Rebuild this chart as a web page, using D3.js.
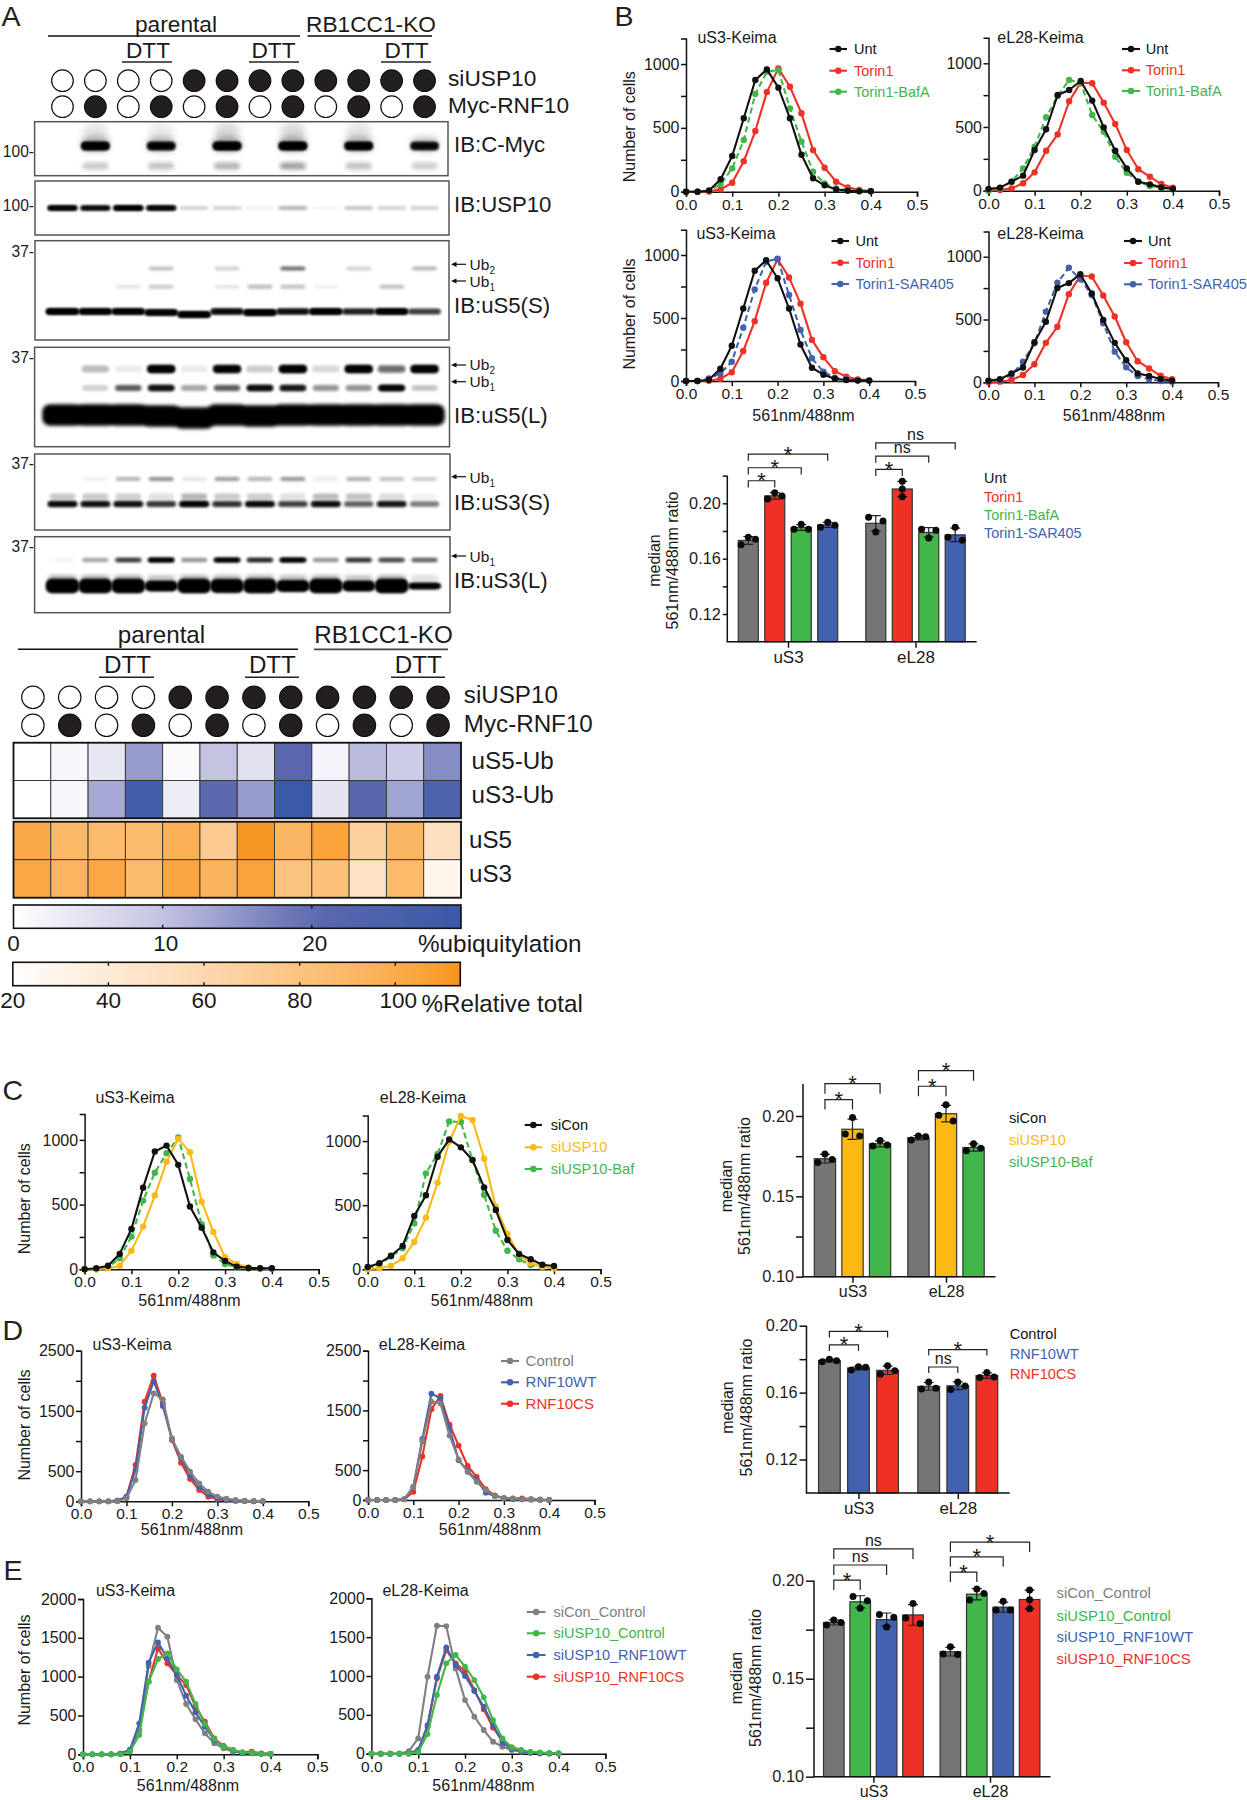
<!DOCTYPE html>
<html><head><meta charset="utf-8">
<script src="https://cdn.jsdelivr.net/npm/d3@7"></script>
<style>
html,body{margin:0;padding:0;background:#fff}
svg{display:block}
text{font-family:"Liberation Sans",Arial,sans-serif;fill:#1a1a1a}
</style></head><body>
<svg id="fig" width="1247" height="1800" viewBox="0 0 1247 1800"></svg>
<script>
/* ---------- panel A states and densitometry ---------- */
const siUSP10State = [0,0,0,0,1,1,1,1,1,1,1,1];
const mycState     = [0,1,0,1,0,1,0,1,0,1,0,1];
const heatUS5Ub = [0,1.5,4,14.5,1,10,5,21,2,11,8.5,16];
const heatUS3Ub = [0,1.5,13,27,3,20.5,14.5,30,4.5,22,13.5,24];
const heatUS5   = [102,90,88,88,98,73,112,92,106,68,92,52];
const heatUS3   = [103,93,103,87,104,94,106,80,83,49,89,28];
const ubBarTicks = [10,20];
const ubBarLabels = [0,10,20];
const totalBarTicks = [40,60,80,100];
const totalBarLabels = [20,40,60,80,100];

/* blot band intensities, one value per lane */
const blotMycMain  = [0,.95,0,.8,0,1,0,1,0,.9,0,.7];
const blotMycLow   = [0,.22,0,.25,0,.3,0,.38,0,.25,0,.2];
const blotMycSmear = [0,.1,0,.08,0,.14,0,.14,0,.1,0,0];
const blotUSP10    = [.9,.75,1,.85,.06,.06,.02,.1,.01,.08,.06,.06];
const blotS5SMain  = [.98,.92,.92,.9,.98,.72,1,.68,.95,.55,.92,.4];
const blotS5SUb2   = [0,0,0,.28,0,.2,0,.65,0,.2,0,.32];
const blotS5SUb1   = [0,0,.1,.22,0,.1,.28,.25,.06,0,.25,0];
const blotS5LMain  = [1,1,1,1,1,1,1,1,1,1,1,1];
const blotS5LUb2   = [0,.14,.04,1,.04,.95,.1,1,.08,1,.35,1];
const blotS5LUb1   = [0,.1,.42,.8,.2,.42,.85,.75,.25,.25,.95,.13];
const blotS3SMain  = [.88,.82,.82,.6,.98,.62,.88,.55,.85,.42,.78,.32];
const blotS3SUpper = [.22,.22,.2,.12,.3,.22,.2,.12,.28,.25,.14,.05];
const blotS3SUb1   = [0,.06,.3,.45,.1,.4,.3,.42,.08,.32,.25,.2];
const blotS3LMain  = [1,1,1,.72,1,.95,1,.8,1,.72,1,.42];
const blotS3LUb1   = [.02,.2,.55,1,.25,1,.65,1,.25,.6,.5,.4];

/* ---------- flow histograms: ratio bins ---------- */
const binsFine  = [0,.025,.05,.075,.1,.125,.15,.175,.2,.225,.25,.275,.3,.325,.35,.375,.4];
const binsSmall = [0,.02,.04,.06,.08,.1,.12,.14,.16,.18,.2,.22,.24,.26,.28,.3,.32,.34,.36,.38,.4];

/* panel B */
const bS3Unt  = [0,0,10,97,280,575,875,958,815,575,290,105,50,18,8,3,3];
const bS3Tor  = [0,0,2,18,70,238,475,780,966,822,614,326,188,78,34,13,5];
const bS3Baf  = [0,0,5,60,183,405,765,940,953,653,392,157,65,26,13,5,3];
const bS3Sar  = [0,0,20,60,153,423,727,947,970,682,405,180,74,26,13,5,3];
const bL28Unt = [13,24,71,118,319,482,751,790,861,707,497,314,175,71,50,26,13];
const bL28Tor = [0,5,18,58,144,314,442,702,848,843,691,524,319,168,110,52,24];
const bL28Baf = [5,18,71,175,346,576,743,869,843,594,463,267,141,71,37,24,10];
const bL28Sar = [10,19,58,164,310,562,793,912,820,695,470,244,119,50,24,10,5];

/* panel C */
const cS3Con  = [0,8,28,119,312,631,910,956,807,485,322,131,64,21,10,8,8];
const cS3Usp  = [0,0,8,28,144,330,570,832,1008,905,523,289,93,41,15,8,8];
const cS3Baf  = [0,0,15,85,253,531,747,897,1018,698,348,106,41,15,8,5,3];
const cL28Con = [18,47,106,182,416,577,878,1013,951,852,639,462,229,119,78,36,26];
const cL28Usp = [0,8,28,86,213,403,675,995,1195,1164,862,488,275,112,47,21,8];
const cL28Baf = [8,34,99,164,358,748,899,1153,1148,852,579,301,145,78,34,16,8];

/* panel D */
const dS3Ctl  = [0,0,0,0,0,50,354,1294,1792,1692,1034,741,492,299,160,77,44,22,11,5,5];
const dS3Wt   = [0,0,0,0,11,77,520,1554,1996,1582,1045,713,426,243,116,50,22,11,5,0,0];
const dS3Cs   = [0,0,0,0,11,77,603,1654,2085,1626,1018,642,371,188,77,33,17,11,5,0,0];
const dL28Ctl = [0,0,0,0,11,221,984,1648,1615,1078,680,470,304,166,66,33,22,11,11,5,5];
const dL28Wt  = [0,0,0,0,16,221,1023,1781,1703,1206,664,487,332,122,66,28,11,11,5,5,0];
const dL28Cs  = [0,0,0,0,11,138,730,1521,1742,1261,912,570,387,182,77,33,28,28,16,5,0];

/* panel E */
const eS3Ctl  = [0,0,0,0,4,56,313,1137,1631,1515,957,648,450,270,142,77,34,21,13,4,4];
const eS3Usp  = [0,0,0,0,0,34,249,935,1227,1300,1094,935,648,390,197,99,56,26,17,9,4];
const eS3Wt   = [0,0,0,0,9,56,399,1180,1441,1236,1021,755,540,356,184,99,47,13,13,9,4];
const eS3Cs   = [0,0,0,0,9,56,313,935,1364,1171,1021,892,613,420,206,107,56,26,34,13,9];
const eL28Ctl = [0,0,0,0,34,197,991,1647,1643,1098,690,476,305,154,90,47,26,13,9,4,4];
const eL28Usp = [0,0,0,0,0,21,253,755,1163,1270,1120,948,725,433,197,82,47,26,17,9,4];
const eL28Wt  = [0,0,0,0,4,47,369,991,1369,1141,1000,807,605,369,142,60,30,13,4,4,4];
const eL28Cs  = [0,0,0,0,4,47,347,970,1334,1163,1064,819,571,335,167,82,47,17,9,4,4];

/* ---------- replicate medians for the bar panels ---------- */
const groups = ["uS3","eL28"];
const barBNames = ["Unt","Torin1","Torin1-BafA","Torin1-SAR405"];
const barBuS3  = [[.1755,.174,.170],[.2077,.2053,.2031],[.1849,.1813,.1813],[.1863,.1841,.1827]];
const barBeL28 = [[.19,.1873,.1793],[.2159,.2103,.2048],[.1813,.1805,.175],[.1827,.1755,.1733]];
const barCNames = ["siCon","siUSP10","siUSP10-Baf"];
const barCuS3  = [[.1763,.173,.171],[.199,.1888,.1875],[.1848,.182,.1813]];
const barCeL28 = [[.1875,.1871,.185],[.207,.2004,.1969],[.1828,.18,.1784]];
const barDNames = ["Control","RNF10WT","RNF10CS"];
const barDuS3  = [[.18,.179,.1785],[.1755,.1751,.1735],[.176,.173,.171]];
const barDeL28 = [[.1664,.1626,.1622],[.1664,.164,.1618],[.172,.1693,.1691]];
const barENames = ["siCon_Control","siUSP10_Control","siUSP10_RNF10WT","siUSP10_RNF10CS"];
const barEuS3  = [[.18,.1787,.1774],[.192,.1898,.1859],[.1828,.1813,.1764],[.1884,.181,.1782]];
const barEeL28 = [[.1663,.1626,.1624],[.1958,.1935,.1901],[.1895,.185,.185],[.1952,.1903,.1857]];

/* significance brackets: group, first bar, last bar, level on the value axis, label */
const brkB = [["uS3",0,1,.2163,"*"],["uS3",0,2,.2257,"*"],["uS3",0,3,.2355,"*"],
              ["eL28",0,1,.2245,"*"],["eL28",0,2,.2341,"ns"],["eL28",0,3,.2437,"ns"]];
const brkC = [["uS3",0,1,.2102,"*"],["uS3",0,2,.2201,"*"],["eL28",0,1,.2185,"*"],["eL28",0,2,.2282,"*"]];
const brkD = [["uS3",0,1,.1885,"*"],["uS3",0,2,.1966,"*"],["eL28",0,1,.1753,"ns"],["eL28",0,2,.1857,"*"]];
const brkE = [["uS3",0,1,.2003,"*"],["uS3",0,2,.208,"ns"],["uS3",0,3,.2162,"ns"],
              ["eL28",0,1,.2044,"*"],["eL28",0,2,.2122,"*"],["eL28",0,3,.2197,"*"]];

/* ---------- styles ---------- */
const RED="#ee3124", GREEN="#41b64a", BLUE="#4162ae", YEL="#fdb913", GRAY="#7a7a7a", BLK="#111111";
const svg = d3.select("#fig");
const defs = svg.append("defs");
[["b1",1.5],["b2",2.2],["b3",3.6]].forEach(([id,s])=>{
  defs.append("filter").attr("id",id).attr("x","-60%").attr("y","-400%").attr("width","220%").attr("height","900%")
    .append("feGaussianBlur").attr("stdDeviation",s);
});

function txt(g,x,y,s,size,opt={}){
  const t=g.append("text").attr("x",x).attr("y",y).attr("font-size",size).text(s);
  if(opt.anchor)t.attr("text-anchor",opt.anchor);
  if(opt.fill)t.style("fill",opt.fill);
  if(opt.rot)t.attr("transform",`rotate(-90 ${x} ${y})`).attr("text-anchor","middle");
  return t;
}
function panelLetter(x,y,s){txt(svg,x,y,s,28.5).style("fill","#222");}
panelLetter(1.5,26,"A");panelLetter(614.5,26,"B");panelLetter(2.5,1100,"C");panelLetter(2.5,1340,"D");panelLetter(3.5,1580,"E");

/* ---------- header + circles shared by both parts of A ---------- */
function header(h){
  const lane=d3.scaleBand().domain(d3.range(12)).range(h.lanes);
  const g=svg.append("g");
  txt(g,h.parX,h.txtY,"parental",h.fs,{anchor:"middle"});
  txt(g,h.koX,h.txtY,"RB1CC1-KO",h.fs,{anchor:"middle"});
  g.append("line").attr("x1",h.parL[0]).attr("x2",h.parL[1]).attr("y1",h.lineY).attr("y2",h.lineY).attr("stroke","#111").attr("stroke-width",1.4);
  g.append("line").attr("x1",h.koL[0]).attr("x2",h.koL[1]).attr("y1",h.lineY).attr("y2",h.lineY).attr("stroke","#444").attr("stroke-width",1.8);
  h.dtt.forEach(d=>{
    txt(g,d[0],h.dttY,"DTT",h.fs,{anchor:"middle"});
    g.append("line").attr("x1",d[1]).attr("x2",d[2]).attr("y1",h.dttL).attr("y2",h.dttL).attr("stroke","#222").attr("stroke-width",1.4);
  });
  [[siUSP10State,h.row1,"siUSP10",h.lab1],[mycState,h.row2,"Myc-RNF10",h.lab2]].forEach(([st,y,name,ly])=>{
    g.selectAll(null).data(st).join("ellipse")
      .attr("cx",(d,i)=>lane(i)+lane.bandwidth()/2).attr("cy",y).attr("rx",h.r).attr("ry",h.r)
      .attr("fill",d=>d?"#231f20":"#fff").attr("stroke","#111").attr("stroke-width",1.2);
    txt(g,h.labX,ly,name,h.fs);
  });
  return lane;
}
const lane = header({lanes:[46,441],parX:176,koX:371,txtY:31.7,fs:22.7,lineY:36,parL:[48,300],koL:[307.5,432],
  dtt:[[148,122,172],[273.5,249,299],[406.6,381,431]],dttY:58.3,dttL:62,row1:80.7,row2:106.7,r:10.8,labX:448,lab1:86,lab2:113.3});
header({lanes:[14.5,456.5],parX:161.5,koX:383.5,txtY:642.7,fs:24.2,lineY:649.3,parL:[18,298],koL:[314,448],
  dtt:[[127.6,99,154],[272.4,245,299],[418.3,391,445]],dttY:673.3,dttL:677.3,row1:697.3,row2:725.3,r:11.2,labX:463.8,lab1:702.7,lab2:731.7});
const heatCol = d3.scaleBand().domain(d3.range(12)).range([13.5,461]);

/* ---------- blots ---------- */
const cx=i=>lane(i)+lane.bandwidth()/2;
let clipN=0;
function blot(b){
  const g=svg.append("g"), id="clip"+(clipN++);
  defs.append("clipPath").attr("id",id).append("rect").attr("x",b.x0).attr("y",b.y0).attr("width",b.x1-b.x0).attr("height",b.y1-b.y0);
  const inner=g.append("g").attr("clip-path",`url(#${id})`);
  b.bands.forEach(k=>{
    const h=d=>k.thin?k.h*d:k.h;
    for(let rep=0;rep<(k.rep||1);rep++){
    inner.selectAll(null).data(k.vals).join("rect")
      .attr("x",(d,i)=>cx(i)-k.w/2).attr("width",k.w)
      .attr("y",(d,i)=>k.y-h(d)/2+(k.drop?k.drop[i]:0)).attr("height",d=>h(d))
      .attr("rx",d=>k.rx===undefined?h(d)/2:k.rx)
      .attr("fill","#000").attr("opacity",d=>k.thin?(d>0?1:0):d).attr("filter",`url(#${k.blur||"b1"})`);
    }
  });
  g.append("rect").attr("x",b.x0).attr("y",b.y0).attr("width",b.x1-b.x0).attr("height",b.y1-b.y0)
    .attr("fill","none").attr("stroke","#555").attr("stroke-width",1.5);
  txt(g,454,b.labY,b.label,22.2);
  if(b.mw){
    txt(g,34,b.mwY,b.mw+"-",15.6,{anchor:"end"});
  }
  (b.ubs||[]).forEach(u=>{
    g.append("line").attr("x1",455).attr("x2",466).attr("y1",u[0]).attr("y2",u[0]).attr("stroke","#111").attr("stroke-width",1.2);
    g.append("path").attr("d",d3.line()([[451,u[0]],[456.5,u[0]-2.6],[456.5,u[0]+2.6]])+"Z").attr("fill","#111");
    const t=txt(g,469.6,u[1],"Ub",15.5);
    t.append("tspan").attr("dy",4).attr("font-size",10).text(u[2]);
  });
}
const drop5=[0,0,0,1,3,0,1,0,0,0,0,0];
blot({x0:34.6,x1:448,y0:121.7,y1:175.7,label:"IB:C-Myc",labY:152,mw:"100",mwY:157.3,bands:[
  {y:131,h:18,w:25,vals:blotMycSmear,blur:"b3"},
  {y:166,h:7,w:26,vals:blotMycLow,blur:"b2"},
  {y:144,h:14,w:28,vals:blotMycMain.map(v=>v*.35),blur:"b3"},
  {y:146,h:7,w:27,vals:blotMycMain,blur:"b1",rx:3,rep:3}]});
blot({x0:35,x1:449,y0:181,y1:235,label:"IB:USP10",labY:211.7,mw:"100",mwY:210.7,bands:[
  {y:208,h:4.2,w:29,vals:blotUSP10,blur:"b1",rep:3}]});
blot({x0:35,x1:449,y0:240.7,y1:340,label:"IB:uS5(S)",labY:313.3,mw:"37",mwY:256.7,
  ubs:[[264.3,270,"2"],[281,286.7,"1"]],bands:[
  {y:268.5,h:3.5,w:25,vals:blotS5SUb2,blur:"b1"},
  {y:286.7,h:4,w:25,vals:blotS5SUb1,blur:"b1"},
  {y:311.5,h:5,w:32,vals:blotS5SMain,blur:"b1",drop:drop5,rep:3}]});
blot({x0:34.6,x1:449.5,y0:347.3,y1:446.7,label:"IB:uS5(L)",labY:423.3,mw:"37",mwY:363.3,
  ubs:[[365,370,"2"],[381.7,387.3,"1"]],bands:[
  {y:369,h:7,w:27,vals:blotS5LUb2,blur:"b1",rx:3,rep:2},
  {y:388,h:5.5,w:26,vals:blotS5LUb1,blur:"b1",rep:2},
  {y:415,h:19,w:38,vals:blotS5LMain,blur:"b2",rx:6,drop:drop5,rep:2}]});
blot({x0:34.6,x1:450,y0:454,y1:530,label:"IB:uS3(S)",labY:510,mw:"37",mwY:469.3,
  ubs:[[476.7,482.7,"1"]],bands:[
  {y:479,h:4,w:25,vals:blotS3SUb1,blur:"b1"},
  {y:496.5,h:6,w:26,vals:blotS3SUpper,blur:"b1"},
  {y:504,h:5,w:29,vals:blotS3SMain,blur:"b1",rep:2}]});
blot({x0:34.6,x1:450,y0:536.7,y1:612.7,label:"IB:uS3(L)",labY:588.3,mw:"37",mwY:551.7,
  ubs:[[556,561.7,"1"]],bands:[
  {y:560,h:4,w:26,vals:blotS3LUb1,blur:"b1",rep:2},
  {y:578.5,h:6,w:28,vals:blotS3LMain.map(v=>v*.35),blur:"b2"},
  {y:586,h:13,w:32,vals:blotS3LMain,blur:"b1",rx:5,thin:true,rep:2}]});

/* ---------- heat map ---------- */
const ubColor=d3.scaleLinear().domain([0,10,20,30]).range(["#ffffff","#c4c3e2","#5d69b0","#3a59a8"]);
const totColor=d3.scaleLinear().domain([20,60,100,113.6]).range(["#fffefd","#fdd8b0","#fbae50","#f7941d"]);
function heatBlock(rows,color,y0,y1){
  const g=svg.append("g");
  const yB=d3.scaleBand().domain(d3.range(rows.length)).range([y0,y1]);
  rows.forEach((r,j)=>{
    g.selectAll(null).data(r).join("rect")
      .attr("x",(d,i)=>heatCol(i)).attr("width",heatCol.bandwidth())
      .attr("y",yB(j)).attr("height",yB.bandwidth())
      .attr("fill",d=>color(d)).attr("stroke","#333").attr("stroke-width",.9);
  });
  g.append("rect").attr("x",13.5).attr("y",y0).attr("width",447.5).attr("height",y1-y0).attr("fill","none").attr("stroke","#111").attr("stroke-width",1.8);
}
heatBlock([heatUS5Ub,heatUS3Ub],ubColor,742.7,818.3);
heatBlock([heatUS5,heatUS3],totColor,821.7,897.7);
txt(svg,471.6,769,"uS5-Ub",24.2);txt(svg,471.6,803,"uS3-Ub",24.2);
txt(svg,469,848.3,"uS5",24.2);txt(svg,469,881.7,"uS3",24.2);

function colorbar(o){
  const x=d3.scaleLinear().domain(o.dom).range(o.rng);
  const id=o.id, grad=defs.append("linearGradient").attr("id",id);
  d3.range(0,1.001,.1).forEach(t=>grad.append("stop").attr("offset",t).attr("stop-color",o.color(o.dom[0]+t*(o.dom[1]-o.dom[0]))));
  const g=svg.append("g");
  g.append("rect").attr("x",o.rng[0]).attr("y",o.y0).attr("width",o.rng[1]-o.rng[0]).attr("height",o.y1-o.y0)
    .attr("fill",`url(#${id})`).attr("stroke","#111").attr("stroke-width",1.6);
  g.selectAll(null).data(o.ticks).join("path")
    .attr("d",d=>`M${x(d)},${o.y0}v3.5M${x(d)},${o.y1}v-3.5`).attr("stroke","#111").attr("stroke-width",1.4);
  g.selectAll(null).data(o.labels).join("text")
    .attr("x",d=>x(d)+(d>=100?3:(o.dom[1]==30&&d>0)?3:0)).attr("y",o.labY).attr("text-anchor","middle")
    .attr("font-size",22.5).text(d=>d);
  txt(g,o.nameX,o.nameY,o.name,o.nameFs);
}
colorbar({id:"gUb",dom:[0,30],rng:[13.5,461],y0:905,y1:928.3,color:ubColor,ticks:ubBarTicks,labels:ubBarLabels,labY:950.7,nameX:418,nameY:951.7,name:"%ubiquitylation",nameFs:24.3});
colorbar({id:"gTot",dom:[20,113.6],rng:[12.8,460.3],y0:962.3,y1:985.7,color:totColor,ticks:totalBarTicks,labels:totalBarLabels,labY:1008.3,nameX:421.5,nameY:1012.3,name:"%Relative total",nameFs:24.2});

/* ---------- line charts ---------- */
function styleAxis(g,fs){
  g.attr("font-family",null).attr("font-size",fs);
  g.selectAll("path,line").attr("stroke","#111").attr("stroke-width",1.5);
  g.selectAll("text").style("fill","#1a1a1a");
}
function lineChart(o){
  const g=svg.append("g");
  const x=d3.scaleLinear().domain([0,.5]).range([o.x0,o.x1]);
  const y=d3.scaleLinear().domain(o.dom).range([o.base,o.top]);
  const ax=g.append("g").attr("transform",`translate(0,${o.base})`)
    .call(d3.axisBottom(x).tickValues([0,.1,.2,.3,.4,.5]).tickFormat(d3.format(".1f")).tickSizeOuter(0).tickSize(5).tickPadding(2));
  styleAxis(ax,15.5);
  const ay=g.append("g").attr("transform",`translate(${o.x0},0)`)
    .call(d3.axisLeft(y).tickValues(o.ticks).tickFormat(d=>o.labels.includes(d)?d:"").tickSizeOuter(0).tickSize(5).tickPadding(1.5));
  styleAxis(ay,16);
  g.append("text").attr("x",o.titleX).attr("y",o.titleY).attr("text-anchor","middle").attr("font-size",16).text(o.title);
  if(o.xTitleX) g.append("text").attr("x",o.xTitleX).attr("y",o.xTitleY).attr("text-anchor","middle").attr("font-size",16).text("561nm/488nm");
  if(o.yTitleX) txt(g,o.yTitleX,o.yTitleY,"Number of cells",16,{rot:true});
  const line=d3.line().x((d,i)=>x(o.bins[i])).y(d=>y(d));
  o.draw.map(i=>o.series[i]).forEach(s=>{
    g.append("path").datum(s.vals).attr("d",line).attr("fill","none").attr("stroke",s.color).attr("stroke-width",2.1)
      .attr("stroke-dasharray",s.dash?"6,3.5":null).attr("stroke-linejoin","round");
    g.selectAll(null).data(s.vals).join("circle").attr("cx",(d,i)=>x(o.bins[i])).attr("cy",d=>y(d)).attr("r",o.r||3.2).attr("fill",s.color);
  });
  if(o.leg){
    o.series.forEach((s,i)=>{
      const ly=o.leg.ys[i];
      g.append("line").attr("x1",o.leg.l0).attr("x2",o.leg.l1).attr("y1",ly).attr("y2",ly).attr("stroke",s.color).attr("stroke-width",2.1);
      g.append("circle").attr("cx",(o.leg.l0+o.leg.l1)/2).attr("cy",ly).attr("r",3.2).attr("fill",s.color);
      txt(g,o.leg.tx,ly+5,s.name,o.leg.fs||14.5,{fill:s.color===BLK?"#111":s.color});
    });
  }
}
const t1000=[0,250,500,750,1000], l1000=[0,500,1000];
const t2500=[0,500,1000,1500,2000,2500], l2500=[0,500,1500,2500];
const t2000=[0,500,1000,1500,2000], l2000=[0,500,1000,1500,2000];

lineChart({x0:686,x1:917,base:191.7,top:38.5,dom:[0,1200],ticks:t1000,labels:l1000,bins:binsFine,title:"uS3-Keima",titleX:737,titleY:43.3,yTitleX:635,yTitleY:126.7,
  draw:[1,2,0],series:[{name:"Unt",vals:bS3Unt,color:BLK},{name:"Torin1",vals:bS3Tor,color:RED},{name:"Torin1-BafA",vals:bS3Baf,color:GREEN,dash:1}],
  leg:{l0:829.5,l1:847,tx:854,ys:[49,70.7,91.7]}});
lineChart({x0:988.5,x1:1219,base:190.7,top:37.8,dom:[0,1200],ticks:t1000,labels:l1000,bins:binsFine,title:"eL28-Keima",titleX:1040.5,titleY:43,
  draw:[1,2,0],series:[{name:"Unt",vals:bL28Unt,color:BLK},{name:"Torin1",vals:bL28Tor,color:RED},{name:"Torin1-BafA",vals:bL28Baf,color:GREEN,dash:1}],
  leg:{l0:1122,l1:1140,tx:1145.8,ys:[49,70.3,91]}});
lineChart({x0:686,x1:915,base:381,top:229.8,dom:[0,1200],ticks:t1000,labels:l1000,bins:binsFine,title:"uS3-Keima",titleX:736,titleY:238.7,yTitleX:635,yTitleY:314,xTitleX:803.5,xTitleY:420.7,
  draw:[1,2,0],series:[{name:"Unt",vals:bS3Unt,color:BLK},{name:"Torin1",vals:bS3Tor,color:RED},{name:"Torin1-SAR405",vals:bS3Sar,color:BLUE,dash:1}],
  leg:{l0:831.5,l1:849,tx:855.5,ys:[241,262.7,284]}});
lineChart({x0:988.5,x1:1218,base:382.3,top:231.6,dom:[0,1200],ticks:t1000,labels:l1000,bins:binsFine,title:"eL28-Keima",titleX:1040.5,titleY:238.7,xTitleX:1114,xTitleY:420.7,
  draw:[1,2,0],series:[{name:"Unt",vals:bL28Unt,color:BLK},{name:"Torin1",vals:bL28Tor,color:RED},{name:"Torin1-SAR405",vals:bL28Sar,color:BLUE,dash:1}],
  leg:{l0:1124,l1:1142,tx:1148,ys:[241,263,284.3],fs:14.6}});

lineChart({x0:84.6,x1:318.7,base:1269.3,top:1114,dom:[0,1200],ticks:t1000,labels:l1000,bins:binsFine,title:"uS3-Keima",titleX:135,titleY:1102.7,yTitleX:30,yTitleY:1198.7,xTitleX:189.5,xTitleY:1306,
  draw:[2,1,0],series:[{name:"siCon",vals:cS3Con,color:BLK},{name:"siUSP10",vals:cS3Usp,color:YEL},{name:"siUSP10-Baf",vals:cS3Baf,color:GREEN,dash:1}]});
lineChart({x0:367.7,x1:600.6,base:1269.3,top:1115.4,dom:[0,1200],ticks:t1000,labels:l1000,bins:binsFine,title:"eL28-Keima",titleX:423,titleY:1102.7,xTitleX:482,xTitleY:1306,
  draw:[2,1,0],series:[{name:"siCon",vals:cL28Con,color:BLK},{name:"siUSP10",vals:cL28Usp,color:YEL},{name:"siUSP10-Baf",vals:cL28Baf,color:GREEN,dash:1}],
  leg:{l0:524.7,l1:542,tx:550.7,ys:[1125,1147.3,1169],fs:14.6}});

lineChart({x0:81,x1:308.3,base:1501.3,top:1350.7,dom:[0,2500],ticks:t2500,labels:l2500,bins:binsSmall,title:"uS3-Keima",titleX:132,titleY:1350,yTitleX:30,yTitleY:1425,xTitleX:192,xTitleY:1535,r:2.9,
  draw:[2,1,0],series:[{name:"Control",vals:dS3Ctl,color:"#808080"},{name:"RNF10WT",vals:dS3Wt,color:BLUE},{name:"RNF10CS",vals:dS3Cs,color:RED}]});
lineChart({x0:368,x1:594.5,base:1500,top:1350.7,dom:[0,2500],ticks:t2500,labels:l2500,bins:binsSmall,title:"eL28-Keima",titleX:422,titleY:1350,xTitleX:490,xTitleY:1535,r:2.9,
  draw:[2,1,0],series:[{name:"Control",vals:dL28Ctl,color:"#808080"},{name:"RNF10WT",vals:dL28Wt,color:BLUE},{name:"RNF10CS",vals:dL28Cs,color:RED}],
  leg:{l0:501,l1:519,tx:525.6,ys:[1361,1382.3,1403.7],fs:15}});

lineChart({x0:83,x1:317.4,base:1754.3,top:1599,dom:[0,2000],ticks:t2000,labels:l2000,bins:binsSmall,title:"uS3-Keima",titleX:135.5,titleY:1596,yTitleX:30,yTitleY:1670,xTitleX:188,xTitleY:1790.7,r:2.9,
  draw:[3,0,2,1],series:[{name:"siCon_Control",vals:eS3Ctl,color:"#808080"},{name:"siUSP10_Control",vals:eS3Usp,color:GREEN},{name:"siUSP10_RNF10WT",vals:eS3Wt,color:BLUE},{name:"siUSP10_RNF10CS",vals:eS3Cs,color:RED}]});
lineChart({x0:371.4,x1:605.4,base:1753.7,top:1598.3,dom:[0,2000],ticks:t2000,labels:l2000,bins:binsSmall,title:"eL28-Keima",titleX:425.6,titleY:1596,xTitleX:483.5,xTitleY:1790.7,r:2.9,
  draw:[3,0,2,1],series:[{name:"siCon_Control",vals:eL28Ctl,color:"#808080"},{name:"siUSP10_Control",vals:eL28Usp,color:GREEN},{name:"siUSP10_RNF10WT",vals:eL28Wt,color:BLUE},{name:"siUSP10_RNF10CS",vals:eL28Cs,color:RED}],
  leg:{l0:526.8,l1:545.5,tx:553.6,ys:[1612,1633.3,1655,1676.7],fs:14.5}});

/* ---------- bar charts ---------- */
function swarmOffsets(vals,y,d){
  const idx=vals.map((v,i)=>[y(v),i]).sort((a,b)=>a[0]-b[0]);
  const off=[];let c=[idx[0]];
  const flush=()=>{
    const pat=c.length===1?[0]:c.length===2?[-d,d]:[0,d,-d];
    c.forEach((e,k)=>off[e[1]]=pat[k]);
  };
  for(let k=1;k<idx.length;k++){
    if(idx[k][0]-idx[k-1][0]<7){c.push(idx[k]);}else{flush();c=[idx[k]];}
  }
  flush();return off;
}
function barChart(o){
  const g=svg.append("g");
  const y=d3.scaleLinear().domain([.1,.2]).range([o.base,o.y20]);
  const gx=d3.scalePoint().domain(groups).range(o.centers);
  const bx=d3.scaleBand().domain(o.names).range([-o.W/2,o.W/2]).paddingInner(o.pad);
  const data={uS3:o.uS3,eL28:o.eL28};
  groups.forEach(gr=>{
    const rows=data[gr];
    rows.forEach((pts,i)=>{
      const name=o.names[i], m=d3.mean(pts), sd=d3.deviation(pts);
      const x=gx(gr)+bx(name), c=x+bx.bandwidth()/2;
      g.append("rect").attr("x",x).attr("y",y(m)).attr("width",bx.bandwidth()).attr("height",o.base-y(m))
        .attr("fill",o.colors[i]).attr("stroke","#333").attr("stroke-width",1.2);
      g.append("path").attr("d",`M${c},${y(m-sd)}V${y(m+sd)}M${c-5},${y(m-sd)}H${c+5}M${c-5},${y(m+sd)}H${c+5}`)
        .attr("fill","none").attr("stroke","#222").attr("stroke-width",1.2);
      const off=swarmOffsets(pts,y,7.2);
      g.selectAll(null).data(pts).join("circle").attr("cx",(d,k)=>c+off[k]).attr("cy",d=>y(d)).attr("r",3.5).attr("fill","#0b0b0b");
    });
  });
  /* axes */
  const ay=g.append("g").attr("transform",`translate(${o.axX},0)`)
    .call(d3.axisLeft(y).tickValues(o.ticks).tickFormat(d=>o.labels.includes(d)?d3.format(".2f")(d):"").tickSize(o.tick).tickPadding(2));
  ay.select(".domain").remove();
  styleAxis(ay,16.3);
  g.append("line").attr("x1",o.axX).attr("x2",o.axX).attr("y1",o.base).attr("y2",o.axTop).attr("stroke","#111").attr("stroke-width",1.5);
  const ax=g.append("g").attr("transform",`translate(0,${o.base})`)
    .call(d3.axisBottom(gx).tickSize(6).tickPadding(3));
  ax.select(".domain").remove();
  styleAxis(ax,o.xFs);
  g.append("line").attr("x1",o.axX-.7).attr("x2",o.xEnd).attr("y1",o.base).attr("y2",o.base).attr("stroke","#111").attr("stroke-width",1.5);
  txt(g,o.t1X,o.tY,"median",16,{rot:true});
  txt(g,o.t2X,o.tY,"561nm/488nm ratio",16,{rot:true});
  /* brackets */
  o.brk.forEach(([gr,a,b,lvl,lab])=>{
    const xa=gx(gr)+bx(o.names[a])+bx.bandwidth()/2, xb=gx(gr)+bx(o.names[b])+bx.bandwidth()/2, yy=y(lvl);
    g.append("path").attr("d",`M${xa},${yy+o.drop}V${yy}H${xb}V${yy+o.drop}`).attr("fill","none").attr("stroke","#222").attr("stroke-width",1.2);
    if(lab==="*") txt(g,(xa+xb)/2,yy+7.5,"*",22,{anchor:"middle"});
    else txt(g,(xa+xb)/2,yy-3,"ns",16,{anchor:"middle"});
  });
  /* legend */
  o.names.forEach((n,i)=>txt(g,o.legX,o.legY[i],n,o.legFs,{fill:o.legColors[i]}));
}
barChart({names:barBNames,uS3:barBuS3,eL28:barBeL28,colors:["#757575",RED,GREEN,BLUE],legColors:["#111",RED,GREEN,BLUE],
  base:641.7,y20:503.3,centers:[788,915.5],W:99.4,pad:.245,axX:727.3,axTop:475.7,xEnd:976.7,tick:4.5,xFs:17,
  ticks:[.12,.14,.16,.18,.2,.22],labels:[.12,.16,.2],t1X:660,t2X:678,tY:560.5,brk:brkB,drop:6.7,
  legX:984,legY:[483,501.7,520,538.3],legFs:14.4});
barChart({names:barCNames,uS3:barCuS3,eL28:barCeL28,colors:["#757575",YEL,GREEN],legColors:["#111",YEL,GREEN],
  base:1276.7,y20:1116,centers:[852.5,946],W:76.4,pad:.227,axX:803,axTop:1084,xEnd:995.5,tick:7,xFs:16,
  ticks:[.1,.125,.15,.175,.2],labels:[.1,.15,.2],t1X:732,t2X:750,tY:1186,brk:brkC,drop:10,
  legX:1009,legY:[1123.3,1145,1166.7],legFs:14.6});
barChart({names:barDNames,uS3:barDuS3,eL28:barDeL28,colors:["#757575",BLUE,RED],legColors:["#111",BLUE,RED],
  base:1493,y20:1325.7,centers:[858.5,957.8],W:79.9,pad:.254,axX:806.5,axTop:1325.7,xEnd:1009.7,tick:7,xFs:17,
  ticks:[.12,.14,.16,.18,.2],labels:[.12,.16,.2],t1X:733,t2X:752,tY:1407.5,brk:brkD,drop:6,
  legX:1009.7,legY:[1339.3,1359.3,1379.3],legFs:14.6});
barChart({names:barENames,uS3:barEuS3,eL28:barEeL28,colors:["#757575",GREEN,BLUE,RED],legColors:["#808080",GREEN,BLUE,RED],
  base:1776.7,y20:1580.7,centers:[873.4,990],W:99.8,pad:.22,axX:814,axTop:1580.7,xEnd:1050.5,tick:8,xFs:16,
  ticks:[.1,.125,.15,.175,.2],labels:[.1,.15,.2],t1X:742,t2X:761,tY:1678,brk:brkE,drop:10,
  legX:1056.5,legY:[1598.3,1620.7,1642.3,1664],legFs:14.9});
</script>
</body></html>
